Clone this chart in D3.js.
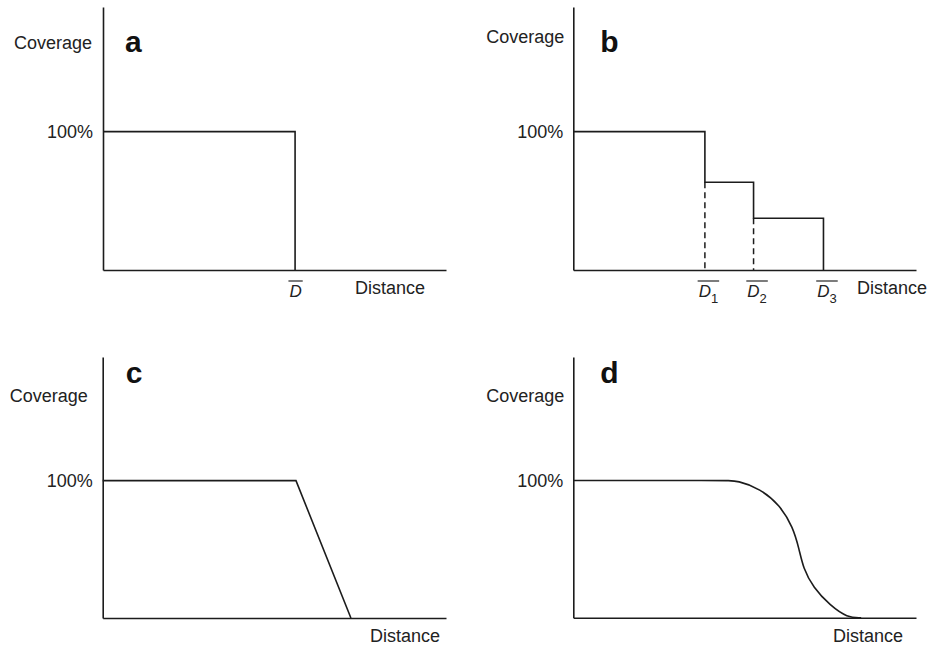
<!DOCTYPE html>
<html>
<head>
<meta charset="utf-8">
<script src="https://cdn.jsdelivr.net/npm/d3@7"></script>
<style>
  body { margin: 0; background: #fff; }
  svg { display: block; font-family: Arial, "Liberation Sans", sans-serif; }
</style>
</head>
<body>
<div id="chart"></div>
<script>
// y scale runs from 0 to yMax, the only labelled tick is 100%
const yTicks = [100];
const yMax = 190;

// panel a: sharp cut-off at D
const aX = [0, 56, 56];
const aY = [100, 100, 0];
const aTicks = [56];
const aTickLabels = [""];

// panel b: steps at D1, D2, D3
const bThresholds = [38.4, 52.6, 73];
const bLevels = [100, 63.4, 37.4, 0];
const bTickLabels = ["1", "2", "3"];

// panel c: linear decline
const cX = [0, 56.3, 72.3];
const cY = [100, 100, 0];

// panel d: smooth decline
const dX = [0, 44, 48, 54.5, 60.3, 64.1, 65.9, 67.1, 70.0, 74.9, 80, 84];
const dY = [100, 100, 100, 94, 82, 66, 50, 36, 22, 9, 0, 0];

const width = 927, height = 646;
const ink = "#1c1c1c";
const textColor = "#222";

const svg = d3.select("#chart").append("svg")
  .attr("width", width)
  .attr("height", height);

function drawPanel(p) {
  const x = d3.scaleLinear().domain([0, 100]).range([p.left, p.right]);
  const y = d3.scaleLinear().domain([0, yMax]).range([p.bottom, p.top]);
  const g = svg.append("g");

  // y axis
  g.append("g")
    .attr("transform", `translate(${p.left},0)`)
    .call(d3.axisLeft(y).tickValues(yTicks).tickSize(0).tickSizeOuter(0).tickPadding(10).tickFormat(d => d + "%"))
    .call(g => g.select(".domain").attr("stroke", ink).attr("stroke-width", 1.6))
    .call(g => g.selectAll("text").attr("font-size", "18px").attr("fill", textColor)
      .attr("font-family", null));

  // x axis
  const xAxis = g.append("g")
    .attr("transform", `translate(0,${p.bottom})`)
    .call(d3.axisBottom(x).tickValues(p.ticks || []).tickSize(0).tickSizeOuter(0).tickFormat(() => ""))
    .call(g => g.select(".domain").attr("stroke", ink).attr("stroke-width", 1.6));

  // tick labels: D with overline and optional subscript
  xAxis.selectAll(".tick text").each(function(d, i) {
    const t = d3.select(this)
      .attr("y", 26.5).attr("dy", null)
      .attr("font-family", null)
      .attr("fill", textColor)
      .attr("text-anchor", "start");
    t.append("tspan").attr("font-style", "italic").attr("font-size", "17px").text("D");
    const sub = p.tickLabels[i];
    if (sub) {
      t.append("tspan").attr("font-size", "13px").attr("dy", 6.5).text(sub);
    }
    const box = this.getBBox();
    t.attr("x", -box.width / 2 + (sub ? 3 : 0));
    const b2 = this.getBBox();
    d3.select(this.parentNode).append("line")
      .attr("x1", b2.x - 1).attr("x2", b2.x + b2.width + 1)
      .attr("y1", 11).attr("y2", 11)
      .attr("stroke", "#444").attr("stroke-width", 1.4);
  });

  // curve
  if (p.series) {
    const line = d3.line().x(d => x(d[0])).y(d => y(d[1])).curve(p.curve || d3.curveLinear);
    g.append("path")
      .datum(p.series)
      .attr("fill", "none")
      .attr("stroke", ink)
      .attr("stroke-width", 1.6)
      .attr("stroke-linejoin", "miter")
      .attr("d", line);
  }

  // dashed drop lines
  (p.dashes || []).forEach(dsh => {
    g.append("line")
      .attr("x1", x(dsh[0])).attr("x2", x(dsh[0]))
      .attr("y1", y(dsh[1])).attr("y2", y(0))
      .attr("stroke", ink)
      .attr("stroke-width", 1.5)
      .attr("stroke-dasharray", "6,4");
  });

  // labels
  g.append("text")
    .attr("x", p.left - p.covGap).attr("y", p.covY)
    .attr("text-anchor", "end")
    .attr("font-size", "18px").attr("fill", textColor)
    .text("Coverage");
  g.append("text")
    .attr("x", p.left + p.letterDx).attr("y", p.letterY)
    .attr("font-size", "30px").attr("font-weight", "bold").attr("fill", "#111")
    .text(p.letter);
  g.append("text")
    .attr("x", p.distX).attr("y", p.distY)
    .attr("font-size", "18px").attr("fill", textColor)
    .text("Distance");
}

// build step series for b from thresholds and levels
const bSeries = [[0, bLevels[0]]];
bThresholds.forEach((t, i) => {
  bSeries.push([t, bLevels[i]]);
  bSeries.push([t, bLevels[i + 1]]);
});

drawPanel({
  letter: "a", left: 103, right: 446, top: 7, bottom: 270,
  series: d3.zip(aX, aY), ticks: aTicks, tickLabels: aTickLabels,
  covGap: 11, covY: 49, letterDx: 22, letterY: 52, distX: 355, distY: 294
});
drawPanel({
  letter: "b", left: 573.3, right: 916, top: 7, bottom: 270,
  series: bSeries, ticks: bThresholds, tickLabels: bTickLabels,
  dashes: [[bThresholds[0], bLevels[1]], [bThresholds[1], bLevels[2]]],
  covGap: 9, covY: 43, letterDx: 27, letterY: 52, distX: 857, distY: 294
});
drawPanel({
  letter: "c", left: 102.7, right: 446, top: 357, bottom: 618,
  series: d3.zip(cX, cY), tickLabels: [],
  covGap: 15, covY: 401.7, letterDx: 23, letterY: 383, distX: 370, distY: 641.5
});
drawPanel({
  letter: "d", left: 573.3, right: 916, top: 357, bottom: 617.7,
  series: d3.zip(dX, dY), curve: d3.curveBasis, tickLabels: [],
  covGap: 9, covY: 401.7, letterDx: 27, letterY: 383, distX: 833, distY: 641.5
});
</script>
</body>
</html>
